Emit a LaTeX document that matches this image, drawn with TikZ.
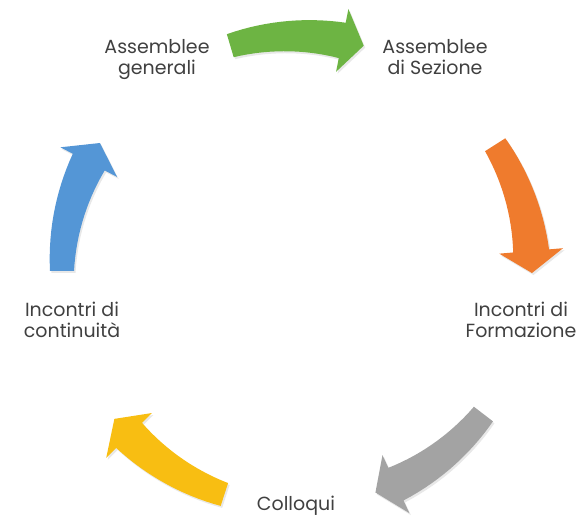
\documentclass[tikz,border=0pt]{standalone}
\usepackage{fontspec}
\setmainfont{Poppins}
\usetikzlibrary{shadows}

\definecolor{accgreen}{HTML}{6DB443}
\definecolor{accorange}{HTML}{EF7B2D}
\definecolor{accgray}{HTML}{A3A3A3}
\definecolor{accgold}{HTML}{F8BE12}
\definecolor{accblue}{HTML}{5496D6}
\definecolor{textgray}{HTML}{404040}

\tikzstyle{caption}=[align=center, anchor=base, inner sep=0pt, text=textgray, font=\fontsize{19}{21}\selectfont]
\tikzstyle{block}=[drop shadow={opacity=0.18, shadow xshift=1.5pt, shadow yshift=-2pt}]

\begin{document}
\begin{tikzpicture}[x=1pt, y=1pt]
            \useasboundingbox (0,0) rectangle (587,518);
            \node[caption] at (157,443) (gen) {Assemblee\\generali};
            \node[caption] at (435,443) (sez) {Assemblee\\di Sezione};
            \node[caption] at (521,180) (form) {Incontri di\\Formazione};
            \node[caption] at (296,7.5) (coll) {Colloqui};
            \node[caption] at (72,180) (cont) {Incontri di\\continuità};
            % curved block arrows round the cycle
            \begin{scope}[shift={(297,247)}]
            \foreach \ta/\col in {106.5/accgreen, 32.5/accorange, -37.5/accgray, -108/accgold, -180/accblue} {
                \pgfmathsetmacro{\hb}{\ta-27.6}
                \pgfmathsetmacro{\tp}{\ta-33}
                \fill[block, \col] plot[domain=\ta:\hb, samples=16] (\x:{247+6*(\ta-(\x))/27.6})
                    -- (\hb:267) -- (\tp:235) -- (\hb:203)
                    -- plot[domain=\hb:\ta, samples=16] (\x:{223-6*(\ta-(\x))/27.6}) -- cycle;
            }
            \end{scope}
        \end{tikzpicture}
\end{document}
